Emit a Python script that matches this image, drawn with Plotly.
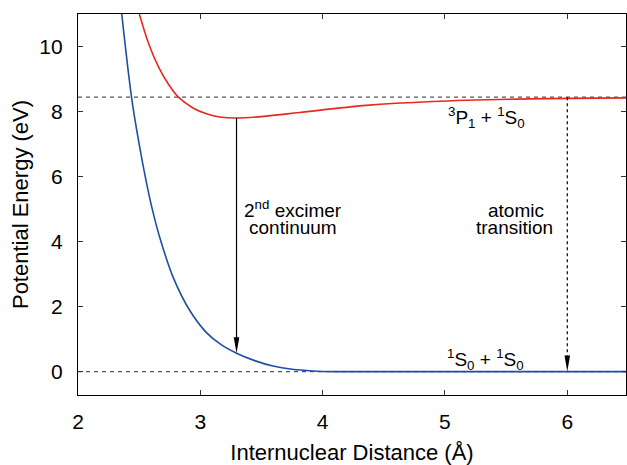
import plotly.graph_objects as go

# Ground state 1S0 + 1S0 (blue)
blue_x = [2.332, 2.438, 2.50, 2.555, 2.61, 2.669, 2.778, 2.914, 3.05, 3.17, 3.296, 3.45, 3.594, 3.75, 3.92, 4.1, 4.5, 5.0, 6.0, 6.48]
blue_y = [11.9, 8.43, 7.0, 5.9, 4.95, 4.12, 2.90, 1.88, 1.20, 0.83, 0.566, 0.33, 0.17, 0.07, 0.02, 0.0, 0.0, 0.0, 0.0, 0.0]

# Excited state 3P1 + 1S0 (red)
red_x = [2.48, 2.58, 2.66, 2.74, 2.819, 2.94, 3.05, 3.159, 3.296, 3.54, 3.812, 4.357, 4.9, 5.69, 6.48]
red_y = [11.28, 10.06, 9.36, 8.84, 8.45, 8.11, 7.93, 7.83, 7.80, 7.86, 7.97, 8.19, 8.31, 8.39, 8.42]

asymptotes = [8.44, 0.0]
x_range = [2, 6.48]
y_range = [-0.72, 11]
x_ticks = [2, 3, 4, 5, 6]
y_ticks = [0, 2, 4, 6, 8, 10]

excimer_x = 3.296
excimer_top, excimer_bottom = 7.80, 0.566
atomic_x = 6.0
atomic_top, atomic_bottom = 8.44, 0.0

FONT = "Liberation Sans, Arial, Helvetica, sans-serif"

fig = go.Figure()
for yv in asymptotes:
    fig.add_trace(go.Scatter(x=x_range, y=[yv, yv], mode="lines",
                             line=dict(color="#555555", width=1.2, dash="4px,4px"),
                             hoverinfo="skip", showlegend=False))
fig.add_trace(go.Scatter(x=blue_x, y=blue_y, mode="lines", line_shape="spline",
                         line=dict(color="#1f4ea8", width=1.6), showlegend=False))
fig.add_trace(go.Scatter(x=red_x, y=red_y, mode="lines", line_shape="spline",
                         line=dict(color="#e8281c", width=1.6), showlegend=False))
fig.add_trace(go.Scatter(x=[excimer_x, excimer_x], y=[excimer_top, excimer_bottom + 0.2], mode="lines",
                         line=dict(color="black", width=1.2), showlegend=False))
fig.add_trace(go.Scatter(x=[atomic_x, atomic_x], y=[atomic_top, atomic_bottom + 0.2], mode="lines",
                         line=dict(color="black", width=1.2, dash="3px,3px"), showlegend=False))

for ax_, ay_ in [(excimer_x, excimer_bottom), (atomic_x, atomic_bottom)]:
    fig.add_shape(type="path", xref="x", yref="y", xsizemode="pixel", ysizemode="pixel",
                  xanchor=ax_, yanchor=ay_, path="M-2.8,16 L2.8,16 L0,0 Z",
                  fillcolor="black", line=dict(width=0))

txt_font = dict(size=19, color="black", family=FONT)
fig.add_annotation(x=3.76, y=5.01, text="2<sup>nd</sup> excimer", showarrow=False, font=txt_font, borderpad=0)
fig.add_annotation(x=3.76, y=4.43, text="continuum", showarrow=False, font=txt_font, borderpad=0)
fig.add_annotation(x=5.58, y=4.97, text="atomic", showarrow=False, font=txt_font, borderpad=0)
fig.add_annotation(x=5.57, y=4.43, text="transition", showarrow=False, font=txt_font, borderpad=0)
fig.add_annotation(x=5.34, y=7.83, text="<sup>3</sup>P<sub>1</sub> + <sup>1</sup>S<sub>0</sub>",
                   showarrow=False, font=txt_font)
fig.add_annotation(x=5.33, y=0.37, text="<sup>1</sup>S<sub>0</sub> + <sup>1</sup>S<sub>0</sub>",
                   showarrow=False, font=txt_font)

axis_common = dict(showgrid=False, zeroline=False, showline=True, linecolor="black", linewidth=1.2,
                   mirror="allticks", ticks="inside", ticklen=5, tickcolor="#333333", tickwidth=1,
                   tickfont=dict(size=21, color="black", family=FONT))
fig.update_xaxes(range=x_range, tickvals=x_ticks, ticklabelstandoff=8,
                 title=dict(text="Internuclear Distance (Å)", font=dict(size=22, color="black", family=FONT), standoff=12),
                 **axis_common)
fig.update_yaxes(range=y_range, tickvals=y_ticks, ticklabelstandoff=10,
                 title=dict(text="Potential Energy (eV)", font=dict(size=22, color="black", family=FONT), standoff=4),
                 **axis_common)
fig.update_layout(width=627, height=465, margin=dict(l=78, r=1, t=14, b=70),
                  plot_bgcolor="white", paper_bgcolor="white", font=dict(family=FONT))
fig.write_html("out.html", config={"displayModeBar": False})

with open("out.html", "r", encoding="utf-8") as f:
    html = f.read()
html = html.replace("<head>", "<head><style>html,body{margin:0;padding:0;overflow:hidden;}</style>", 1)
with open("out.html", "w", encoding="utf-8") as f:
    f.write(html)
